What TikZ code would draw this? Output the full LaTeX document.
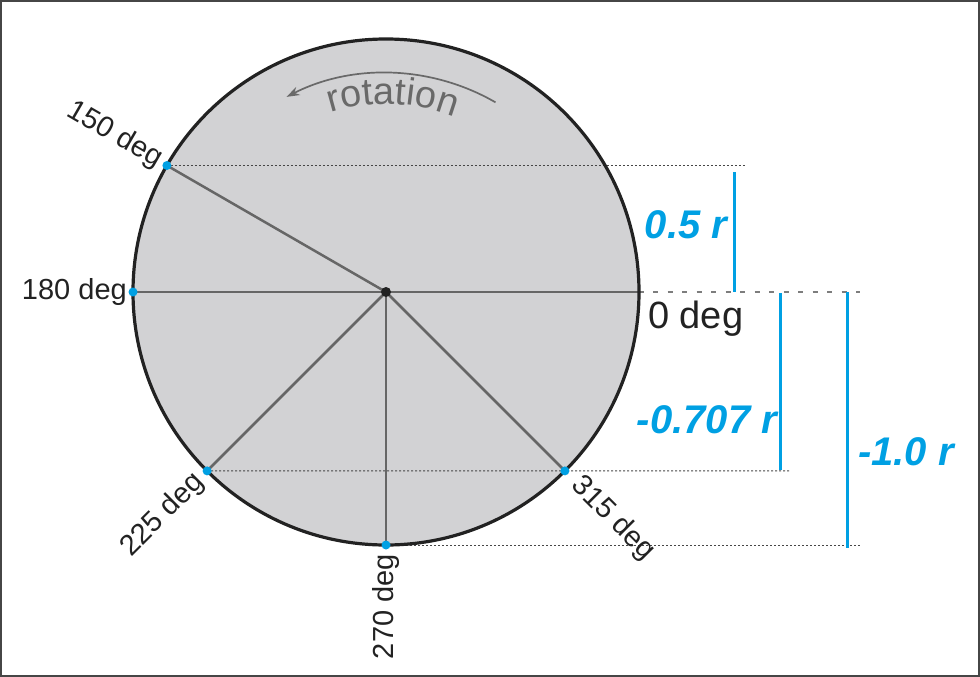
\documentclass[tikz,border=0pt]{standalone}
\usepackage{fontspec}
\setmainfont{Liberation Sans}
\usetikzlibrary{calc,arrows.meta,decorations.text}
\definecolor{circfill}{RGB}{210,210,212}
\definecolor{spoke}{RGB}{102,102,102}
\definecolor{rimc}{RGB}{34,34,34}
\definecolor{cyanb}{RGB}{0,160,227}
\definecolor{dotc}{RGB}{70,70,70}
\definecolor{dashc}{RGB}{125,125,125}
\definecolor{rotgray}{RGB}{105,105,105}
\definecolor{framec}{RGB}{70,70,70}
\begin{document}
\begin{tikzpicture}[x=1pt,y=1pt,
  spokeline/.style={draw=spoke,line width=2.5pt},
  rim/.style={draw=rimc,line width=3.2pt},
  guide/.style={draw=dotc,line width=0.9pt,dash pattern=on 2pt off 2pt},
  zeroguide/.style={draw=dashc,line width=2.5pt,dash pattern=on 5pt off 9.5pt,dash phase=-14pt},
  measure/.style={draw=cyanb,line width=3pt},
  measlabel/.style={text=cyanb,font=\fontsize{40}{40}\selectfont\bfseries\itshape,inner sep=0pt},
  deglabel/.style={text=rimc,font=\fontsize{29}{29}\selectfont,inner sep=0pt},
  ptdot/.style={fill=cyanb},
  rotarrow/.style={draw=rotgray,line width=1.7pt,-{Stealth[length=13pt,width=9pt]}},
]
\useasboundingbox (0,0) rectangle (980,-677);
\draw[framec,line width=2pt] (1,-1) rectangle (979,-676);

\coordinate (C) at (386,-292);
\coordinate (p0) at ($(C)+(0:253)$);
\coordinate (p150) at ($(C)+(150:253)$);
\coordinate (p180) at ($(C)+(180:253)$);
\coordinate (p225) at ($(C)+(225:253)$);
\coordinate (p270) at ($(C)+(270:253)$);
\coordinate (p315) at ($(C)+(315:253)$);

% disc
\fill[circfill] (C) circle[radius=253pt];

% guides
\coordinate (g150) at (745,-165.5);
\coordinate (g315) at (790,-470.9);
\coordinate (g270) at (860,-545);
\coordinate (g0) at (860,-292);
\draw[guide] (p150) -- (g150);
\draw[guide] (p225) -- (g315);
\draw[guide] (p270) -- (g270);
\draw[zeroguide] (p0) -- (g0);

% spokes
\draw[spokeline] (p180) -- (p0);
\draw[spokeline] (C) -- (p150);
\draw[spokeline] (C) -- (p225);
\draw[spokeline] (C) -- (p270);
\draw[spokeline] (C) -- (p315);

% rim
\draw[rim] (C) circle[radius=253pt];

% dots
\fill[rimc] (C) circle[radius=5pt];
\foreach \p in {p150,p180,p225,p270,p315}
  \fill[ptdot] (\p) circle[radius=4.5pt];

% measures
\coordinate (m1a) at (734,-172);
\coordinate (m1b) at (734,-292);
\coordinate (m2a) at (780,-293);
\coordinate (m2b) at (780,-470);
\coordinate (m3a) at (847,-292);
\coordinate (m3b) at (847,-548);
\draw[measure] (m1a) -- (m1b);
\draw[measure] (m2a) -- (m2b);
\draw[measure] (m3a) -- (m3b);
\node[measlabel] (l05) at (686,-225) {0.5 r};
\node[measlabel] (l0707) at (707,-420) {-0.707 r};
\node[measlabel] (l10) at (906,-452) {-1.0 r};

% degree labels
\node[deglabel,font=\fontsize{38}{38}\selectfont,anchor=north west] (d0) at (648,-301) {0 deg};
\node[deglabel,anchor=east] (d180) at ($(C)+(180:259)$) {180 deg};
\node[deglabel,anchor=east,rotate=-30] (d150) at ($(C)+(150:261)$) {150 deg};
\node[deglabel,anchor=east,rotate=45] (d225) at ($(C)+(225:263)$) {225 deg};
\node[deglabel,anchor=east,rotate=90] (d270) at ($(C)+(270:262)$) {270 deg};
\node[deglabel,anchor=west,rotate=-45] (d315) at ($(C)+(315:268)$) {315 deg};

% rotation
\coordinate (ra) at ($(C)+(60:219)$);
\draw[rotarrow] (ra) arc[start angle=60, end angle=117, radius=219pt];
\path[decorate,decoration={text along path,
   text={|\fontsize{38}{38}\selectfont|rotation},
   text align=center, text color=rotgray}]
   ($(C)+(128:188)$) arc[start angle=128, end angle=48, radius=188pt];
\end{tikzpicture}
\end{document}
